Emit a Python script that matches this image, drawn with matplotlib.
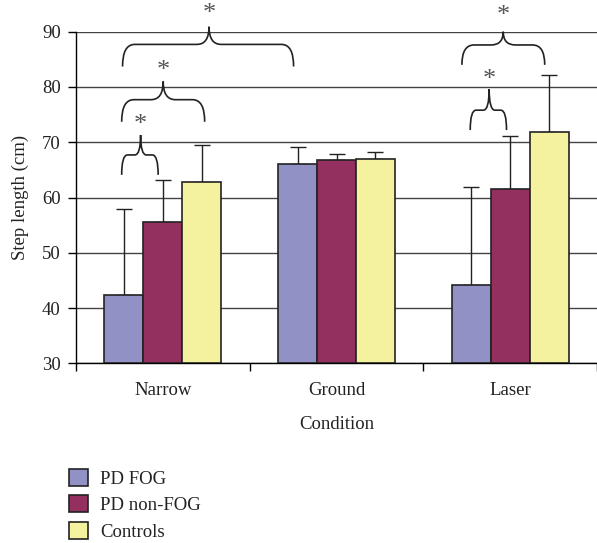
import matplotlib
matplotlib.use("Agg")
import matplotlib.pyplot as plt
import numpy as np
from matplotlib.path import Path
from matplotlib.patches import PathPatch

plt.rcParams['font.family'] = ['Liberation Serif', 'DejaVu Serif']

conditions = ["Narrow", "Ground", "Laser"]
series = ["PD FOG", "PD non-FOG", "Controls"]
means = {
    "PD FOG":     [42.4, 66.1, 44.2],
    "PD non-FOG": [55.5, 66.7, 61.5],
    "Controls":   [62.8, 67.0, 71.9],
}
err_top = {
    "PD FOG":     [57.9, 69.2, 61.9],
    "PD non-FOG": [63.1, 67.9, 71.2],
    "Controls":   [69.5, 68.3, 82.2],
}
colors = ["#9191C5", "#943060", "#F4F29F"]
yticks = [30, 40, 50, 60, 70, 80, 90]

# significance braces: (x_left, x_right, x_center, y_bottom, y_flat, y_peak, y_star)
braces = [
    (-0.237, -0.027, -0.128, 64.1, 67.7, 71.3, 73.1),
    (-0.237, 0.241, 0.002, 73.7, 77.7, 81.0, 82.8),
    (-0.232, 0.753, 0.266, 83.7, 87.7, 90.9, 93.2),
    (1.770, 1.979, 1.879, 72.2, 75.8, 79.6, 81.3),
    (1.722, 2.199, 1.960, 84.0, 87.6, 90.0, 92.9),
]

W, H = 597, 543
fig = plt.figure(figsize=(W / 100, H / 100), dpi=100)
ax = fig.add_axes([76 / W, 1 - 363.3 / H, 1 - 76 / W, (363.3 - 31.7) / H])

x = np.arange(len(conditions))
bw = 0.224
for i, s in enumerate(series):
    xs = x + (i - 1) * bw
    m = np.array(means[s])
    e = np.array(err_top[s]) - m
    ax.bar(xs, m - 30, bottom=30, width=bw, color=colors[i], edgecolor="#222222",
           linewidth=1.2, zorder=3, label=s)
    ax.errorbar(xs, m, yerr=[np.zeros_like(e), e], fmt="none", ecolor="#222222",
                elinewidth=1, capsize=6, capthick=1, zorder=2)

ax.set_xlim(-0.5, 2.5)
ax.set_ylim(30, 90)
ax.set_yticks(yticks)
ax.yaxis.grid(True, color="#444444", linewidth=1)
ax.set_axisbelow(True)
for sp in ["top", "right"]:
    ax.spines[sp].set_visible(False)
ax.spines["left"].set_linewidth(1)
ax.spines["bottom"].set_linewidth(1)

ax.set_xticks([-0.5, 0.5, 1.5, 2.5])
ax.set_xticklabels([])
ax.set_xticks(x, minor=True)
ax.set_xticklabels(conditions, minor=True, fontsize=13.5, color="#222222")
ax.tick_params(axis="x", which="major", length=6, width=1, direction="out")
ax.tick_params(axis="x", which="minor", length=0, pad=13.5)
ax.tick_params(axis="y", length=6, width=1, direction="out", labelsize=13.5,
               labelcolor="#222222", pad=5)

ax.set_xlabel("Condition", fontsize=13.5, color="#222222", labelpad=12)
ax.set_ylabel("Step length (cm)", fontsize=13.5, color="#222222", labelpad=9)

for (xl, xr, xc, yb, yf, yp, ys) in braces:
    r = min(0.07, (xr - xl) * 0.16)
    verts = [
        (xl, yb), (xl, yf), (xl + r, yf),
        (xc - r, yf),
        (xc, yf), (xc, yp),
        (xc, yf), (xc + r, yf),
        (xr - r, yf),
        (xr, yf), (xr, yb),
    ]
    codes = [Path.MOVETO, Path.CURVE3, Path.CURVE3,
             Path.LINETO,
             Path.CURVE3, Path.CURVE3,
             Path.CURVE3, Path.CURVE3,
             Path.LINETO,
             Path.CURVE3, Path.CURVE3]
    ax.add_patch(PathPatch(Path(verts, codes), facecolor="none", edgecolor="#222222",
                           linewidth=1.2, clip_on=False, zorder=5))
    ax.text(xc, ys, "*", ha="center", va="center", fontsize=19, color="#555555",
            clip_on=False, zorder=5)

handles, labels = ax.get_legend_handles_labels()
fig.legend(handles, labels, loc="upper left", bbox_to_anchor=(61 / W, 1 - 461 / H),
           frameon=False, fontsize=13.5, handlelength=1.05, handleheight=1.05,
           handletextpad=0.65, labelspacing=0.4, borderaxespad=0, labelcolor="#222222")

fig.savefig("out.png", dpi=100)
